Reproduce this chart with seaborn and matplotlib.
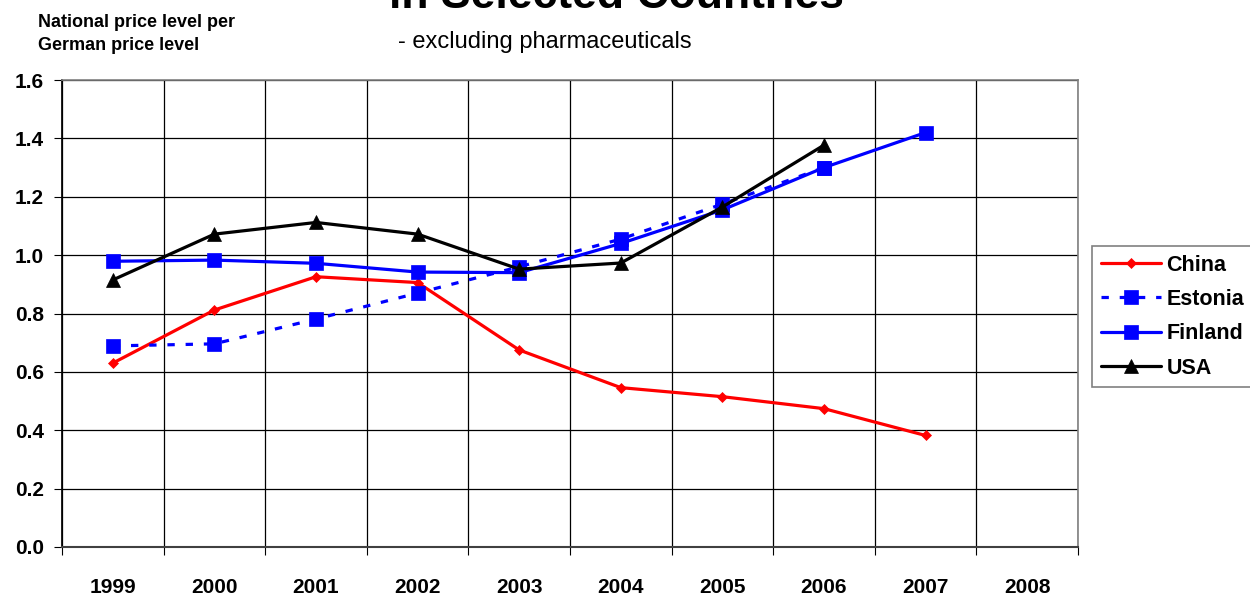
import numpy as np
import pandas as pd
import seaborn as sns
import matplotlib.pyplot as plt

# values
years = [1999, 2000, 2001, 2002, 2003, 2004, 2005, 2006, 2007, 2008]
china = [0.630, 0.812, 0.926, 0.906, 0.675, 0.546, 0.515, 0.474, 0.382, np.nan]
estonia = [0.689, 0.696, 0.781, 0.870, 0.960, 1.055, 1.175, 1.300, np.nan, np.nan]
finland = [0.979, 0.983, 0.972, 0.942, 0.940, 1.040, 1.155, 1.300, 1.420, np.nan]
usa = [0.915, 1.072, 1.112, 1.072, 0.952, 0.973, 1.165, 1.377, np.nan, np.nan]
y_ticks = [0.0, 0.2, 0.4, 0.6, 0.8, 1.0, 1.2, 1.4, 1.6]

series = {"China": china, "Estonia": estonia, "Finland": finland, "USA": usa}

sns.set_theme(style="white")
plt.rcParams['font.family'] = ['Liberation Sans', 'DejaVu Sans']
plt.rcParams['text.color'] = 'black'
plt.rcParams['xtick.color'] = 'black'
plt.rcParams['ytick.color'] = 'black'
plt.rcParams['axes.labelcolor'] = 'black'

fig = plt.figure(figsize=(12.5, 5.95), dpi=100)
ax = fig.add_axes([0.0496, 0.0807, 0.8128, 0.7848])

styles = {
    "China": dict(color="#ff0000", marker="D", markersize=5.5, linestyle="-"),
    "Estonia": dict(color="#0000ff", marker="s", markersize=10, linestyle=(0, (2.3, 3.4))),
    "Finland": dict(color="#0000ff", marker="s", markersize=10, linestyle="-"),
    "USA": dict(color="#000000", marker="^", markersize=10, linestyle="-"),
}

for name, vals in series.items():
    df = pd.DataFrame({"year": years, "value": vals}).dropna()
    st = styles[name]
    sns.lineplot(data=df, x="year", y="value", ax=ax, label=name,
                 color=st["color"], marker=st["marker"], markersize=st["markersize"],
                 linestyle=st["linestyle"], linewidth=2.3,
                 markeredgecolor=st["color"], markerfacecolor=st["color"],
                 markeredgewidth=0.5, zorder=3)

# axes and grid
ax.set_xlim(years[0] - 0.5, years[-1] + 0.5)
ax.set_ylim(0, 1.6)
ax.set_yticks(y_ticks)
ax.set_yticklabels([f"{v:.1f}" for v in y_ticks], fontsize=15, fontweight="bold")
ax.set_xticks(years)
ax.set_xticklabels([str(y) for y in years], fontsize=15, fontweight="bold")
ax.set_xticks([y + 0.5 for y in [years[0] - 1] + years], minor=True)
ax.tick_params(axis="x", which="major", length=0, pad=22)
ax.tick_params(axis="x", which="minor", length=6, width=0.8, color="black", direction="out", bottom=True)
ax.tick_params(axis="y", length=6, width=0.8, color="black", direction="out", left=True, pad=7)
ax.grid(axis="y", which="major", color="black", linewidth=0.9)
ax.grid(axis="x", which="minor", color="black", linewidth=0.9)
ax.grid(axis="x", which="major", visible=False)
ax.set_axisbelow(True)
ax.set_xlabel("")
ax.set_ylabel("")
for side in ["top", "right"]:
    ax.spines[side].set_color("#808080")
    ax.spines[side].set_linewidth(1.2)
ax.spines["left"].set_color("black")
ax.spines["bottom"].set_color("#404040")
ax.spines["bottom"].set_linewidth(1.5)

# legend
leg = ax.legend(loc="upper left", bbox_to_anchor=(0.8736, 0.5866), bbox_transform=fig.transFigure,
                prop={"family": "Liberation Sans", "weight": "bold", "size": 15.5},
                frameon=True, fancybox=False, edgecolor="#606060", handlelength=2.8,
                handletextpad=0.25, labelspacing=0.62, borderaxespad=0, borderpad=0.4)
leg.get_frame().set_linewidth(1.2)

# titles and annotations
fig.text(0.4935, 0.987, "in Selected Countries", ha="center", va="baseline",
         fontsize=32, fontweight="bold")
fig.text(0.318, 0.929, "- excluding pharmaceuticals", ha="left", va="center", fontsize=17)
fig.text(0.03, 0.962, "National price level per", ha="left", va="center",
         fontsize=13, fontweight="bold")
fig.text(0.03, 0.924, "German price level", ha="left", va="center",
         fontsize=13, fontweight="bold")

plt.savefig("out.png", dpi=100)
